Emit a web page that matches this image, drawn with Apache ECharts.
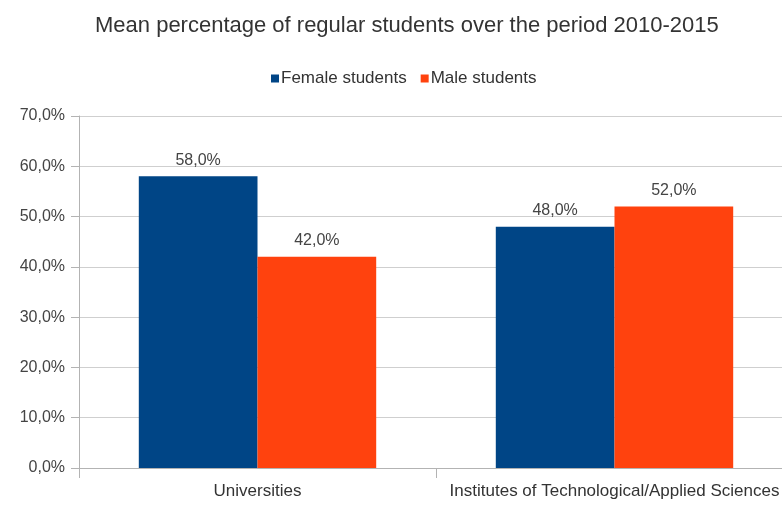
<!DOCTYPE html>
<html>
<head>
<meta charset="utf-8">
<script src="https://cdn.jsdelivr.net/npm/echarts@6/dist/echarts.min.js"></script>
<style>
  html, body { margin: 0; padding: 0; background: #fff; overflow: hidden; }
  /* plot runs a little past the right edge of the window, as in the source */
  #main { width: 793px; height: 506px; }
</style>
</head>
<body>
<div id="main"></div>
<script>
// chart data
var categories = ['Universities', 'Institutes of Technological/Applied Sciences'];
var femaleValues = [58, 48];
var maleValues = [42, 52];
var yTicks = [0, 10, 20, 30, 40, 50, 60, 70];

function pct(v) {
    return v.toFixed(1).replace('.', ',') + '%';
}

var chart = echarts.init(document.getElementById('main'));

var barLabel = {
    show: true,
    position: 'top',
    distance: 8,
    fontSize: 16,
    color: '#444',
    formatter: function (p) { return pct(p.value); }
};

var option = {
    textStyle: { fontFamily: 'Liberation Sans' },
    title: {
        text: 'Mean percentage of regular students over the period 2010-2015',
        left: 90,
        top: 10,
        textStyle: { fontSize: 22, fontWeight: 'normal', color: '#333' }
    },
    legend: {
        top: 65,
        left: 266,
        itemWidth: 8,
        itemHeight: 8,
        itemGap: 14,
        icon: 'rect',
        textStyle: { fontSize: 17, color: '#333', padding: [0, 0, 0, -3] },
        data: ['Female students', 'Male students']
    },
    grid: {
        left: 79,
        right: 0,
        top: 116,
        bottom: 38,
        containLabel: false
    },
    xAxis: {
        type: 'category',
        data: categories,
        axisLine: { lineStyle: { color: '#b3b3b3', width: 1 } },
        axisTick: { show: true, length: 10, lineStyle: { color: '#b3b3b3' } },
        axisLabel: { fontSize: 17, color: '#333', margin: 15, interval: 0 }
    },
    yAxis: {
        type: 'value',
        min: 0,
        max: 70,
        interval: 10,
        axisLine: { show: true, lineStyle: { color: '#b3b3b3' } },
        axisTick: { show: true, length: 8, lineStyle: { color: '#b3b3b3' } },
        splitLine: { lineStyle: { color: '#cfcfcf' } },
        axisLabel: {
            fontSize: 16,
            color: '#444',
            margin: 14,
            formatter: function (v) { return yTicks.indexOf(v) >= 0 ? pct(v) : ''; }
        }
    },
    series: [
        {
            name: 'Female students',
            type: 'bar',
            data: femaleValues,
            barGap: '0%',
            barCategoryGap: '33.5%',
            itemStyle: { color: '#004586' },
            label: barLabel
        },
        {
            name: 'Male students',
            type: 'bar',
            data: maleValues,
            barGap: '0%',
            barCategoryGap: '33.5%',
            itemStyle: { color: '#ff420e' },
            label: barLabel
        }
    ]
};

chart.setOption(option);
</script>
</body>
</html>
